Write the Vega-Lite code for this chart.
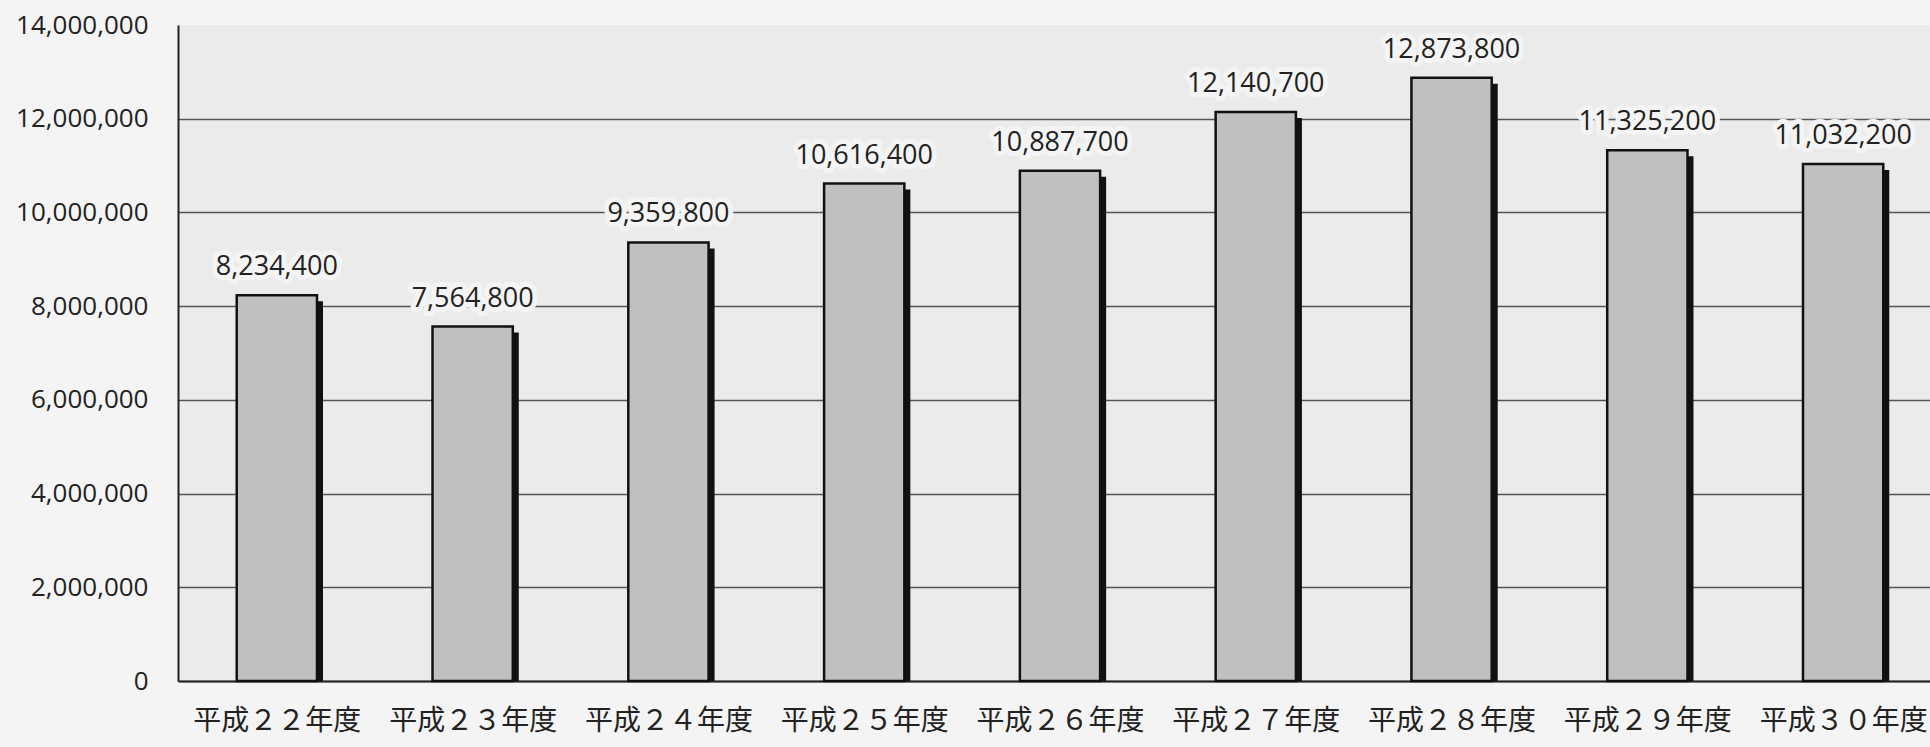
{
  "$schema": "https://vega.github.io/schema/vega-lite/v6.json",
  "autosize": "none",
  "width": 1752,
  "height": 656,
  "padding": {"left": 178, "top": 25, "right": 0, "bottom": 66},
  "background": "#f4f4f4",
  "config": {
    "view": {"fill": "#ebebeb", "stroke": null},
    "font": "Open Sans"
  },
  "data": {
    "values": [
      {"year": "平成２２年度", "value": 8234400},
      {"year": "平成２３年度", "value": 7564800},
      {"year": "平成２４年度", "value": 9359800},
      {"year": "平成２５年度", "value": 10616400},
      {"year": "平成２６年度", "value": 10887700},
      {"year": "平成２７年度", "value": 12140700},
      {"year": "平成２８年度", "value": 12873800},
      {"year": "平成２９年度", "value": 11325200},
      {"year": "平成３０年度", "value": 11032200}
    ]
  },
  "encoding": {
    "x": {
      "field": "year", "type": "nominal", "sort": null, "title": null,
      "scale": {"range": [0, 1764], "paddingInner": 0.59, "paddingOuter": 0.3},
      "axis": {
        "labelAngle": 0, "labelFont": "Noto Sans CJK JP", "labelFontSize": 28,
        "labelColor": "#222", "labelPadding": 34, "tickBand": "extent",
        "ticks": true, "tickSize": -8, "tickColor": "#333", "tickWidth": 1.5,
        "domainColor": "#222", "domainWidth": 2, "grid": false
      }
    },
    "y": {
      "field": "value", "type": "quantitative", "title": null,
      "scale": {"domain": [0, 14000000], "nice": false},
      "axis": {
        "values": [0, 2000000, 4000000, 6000000, 8000000, 10000000, 12000000, 14000000],
        "labelExpr": "format(datum.value, ',')", "labelFontSize": 26, "labelColor": "#222", "labelPadding": 30,
        "ticks": false, "domainColor": "#222", "domainWidth": 2,
        "grid": true, "gridColor": "#555", "gridWidth": 1.5,
        "gridOpacity": {"condition": {"test": "datum.value >= 14000000", "value": 0}, "value": 1}
      }
    }
  },
  "layer": [
    {
      "mark": {"type": "bar", "color": "#111", "xOffset": 6, "yOffset": 6, "y2Offset": 0},
      "encoding": {"y2": {"datum": 0}}
    },
    {
      "mark": {"type": "bar", "fill": "#c0c0c0", "stroke": "#111", "strokeWidth": 2.5}
    },
    {
      "mark": {"type": "text", "baseline": "bottom", "dy": -14, "fontSize": 27, "color": "#222", "stroke": "#f4f4f4", "strokeWidth": 10, "strokeJoin": "round"},
      "encoding": {"text": {"field": "value", "type": "quantitative", "format": ","}}
    },
    {
      "mark": {"type": "text", "baseline": "bottom", "dy": -14, "fontSize": 27, "color": "#222"},
      "encoding": {"text": {"field": "value", "type": "quantitative", "format": ","}}
    }
  ]
}
